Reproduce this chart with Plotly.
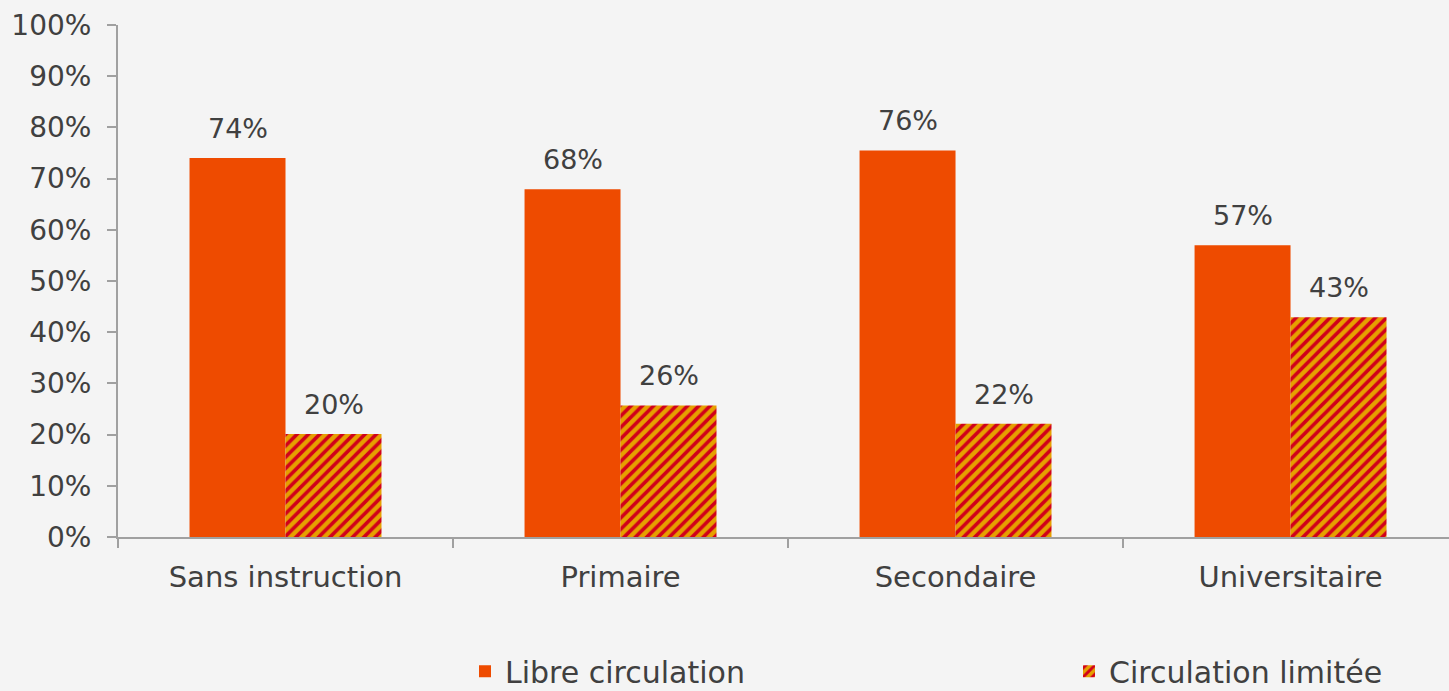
import plotly.graph_objects as go

categories = ["Sans instruction", "Primaire", "Secondaire", "Universitaire"]
libre = [74.0, 67.9, 75.5, 57.0]
limitee = [20.1, 25.7, 22.1, 42.9]
y_ticks = [0, 10, 20, 30, 40, 50, 60, 70, 80, 90, 100]

FONT = "DejaVu Sans"
TXT = "#404040"
HALF = 0.1433  # offset of each bar from the category centre

fig = go.Figure()
fig.add_trace(go.Bar(
    x=categories, y=libre, name="Libre circulation", legend="legend",
    marker=dict(color="#EE4B00", line=dict(width=0)),
))
fig.add_trace(go.Bar(
    x=categories, y=limitee, name="Circulation limitée", legend="legend2",
    marker=dict(color="#E6A000", line=dict(width=0),
                pattern=dict(shape="/", fgcolor="#D1001A", bgcolor="#E6A000",
                             size=8, solidity=0.45, fillmode="replace")),
))

# valeurs au-dessus des barres
for i in range(len(categories)):
    for v, off in ((libre[i], -HALF), (limitee[i], HALF)):
        fig.add_annotation(x=i + off, y=v, text=f"{v:.0f}%", showarrow=False,
                           yanchor="bottom", yshift=12,
                           font=dict(size=27, color=TXT, family=FONT))

leg = dict(orientation="h", xanchor="left", yanchor="middle", y=-0.262,
           bgcolor="rgba(0,0,0,0)", font=dict(size=30, color=TXT, family=FONT))

fig.update_layout(
    width=1449, height=691,
    paper_bgcolor="#F4F4F4", plot_bgcolor="#F4F4F4",
    font=dict(family=FONT, size=26, color=TXT),
    margin=dict(l=118, r=0, t=25, b=154, autoexpand=False),
    barmode="group", bargap=0.427, bargroupgap=0,
    showlegend=True,
    legend=dict(leg, x=(465 - 118) / 1331),
    legend2=dict(leg, x=(1069 - 118) / 1331),
)
fig.update_xaxes(
    range=[-0.5, 3.473], showline=True, linecolor="#A0A0A0", linewidth=2,
    ticks="outside", tickson="boundaries", ticklen=9, tickcolor="#A0A0A0", tickwidth=2,
    showgrid=False, tickfont=dict(size=29, color=TXT), ticklabelstandoff=13,
)
fig.update_yaxes(
    range=[0, 100], tickvals=y_ticks, ticktext=[f"{t}%" for t in y_ticks],
    showline=True, linecolor="#A0A0A0", linewidth=2,
    ticks="outside", ticklen=9, tickcolor="#A0A0A0", tickwidth=2,
    showgrid=False, zeroline=False, tickfont=dict(size=28, color=TXT),
    ticklabelstandoff=10,
)

fig.write_html("out.html", config={"displayModeBar": False},
               post_script="document.body.style.margin='0';")
